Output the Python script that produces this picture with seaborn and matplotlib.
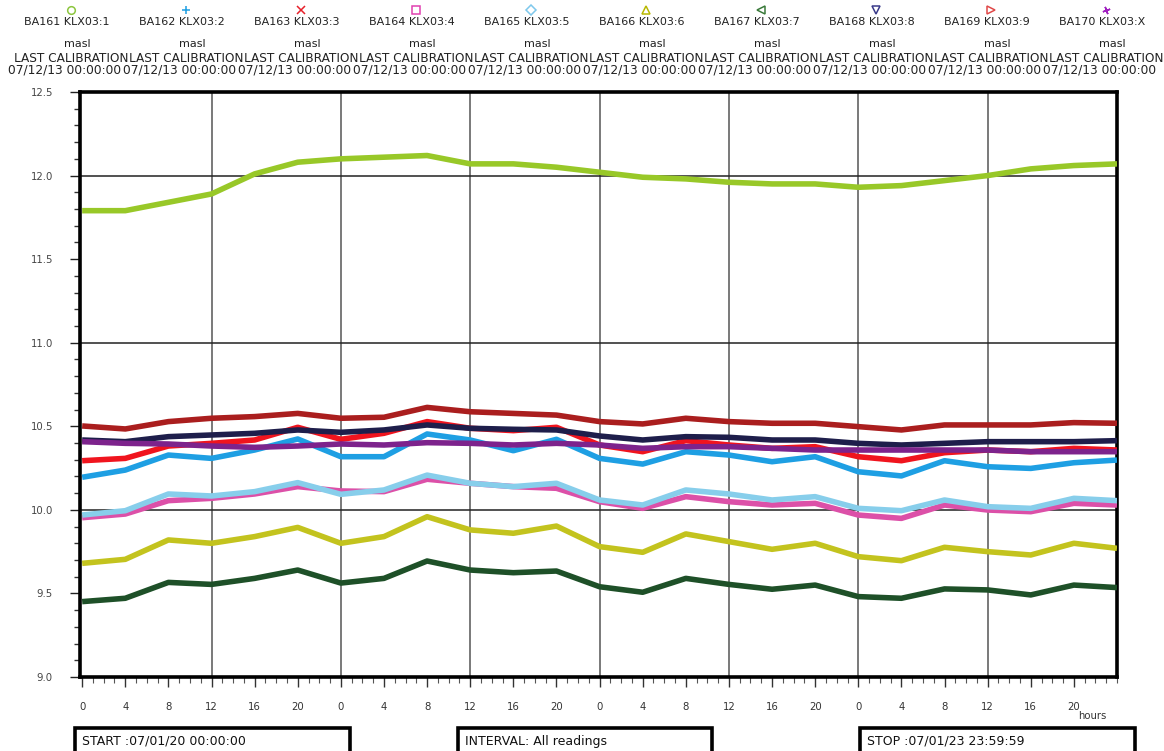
import numpy as np
import pandas as pd
import matplotlib
matplotlib.use("Agg")
import matplotlib.pyplot as plt
import seaborn as sns
from matplotlib.lines import Line2D
from matplotlib.patches import Rectangle
from matplotlib.ticker import MultipleLocator, FixedLocator, FormatStrFormatter

# ---------------- data ----------------
hours = list(range(0, 97, 4))

ba161 = [11.79, 11.79, 11.84, 11.89, 12.01, 12.08, 12.10, 12.11, 12.12, 12.07, 12.07, 12.05, 12.02,
         11.99, 11.98, 11.96, 11.95, 11.95, 11.93, 11.94, 11.97, 12.00, 12.04, 12.06, 12.07]
ba162 = [10.195, 10.238, 10.328, 10.308, 10.358, 10.424, 10.318, 10.318, 10.454, 10.418, 10.354, 10.422, 10.308,
         10.274, 10.348, 10.328, 10.288, 10.318, 10.228, 10.203, 10.294, 10.258, 10.248, 10.282, 10.298]
ba163 = [10.294, 10.308, 10.382, 10.398, 10.418, 10.494, 10.422, 10.458, 10.528, 10.488, 10.474, 10.494, 10.388,
         10.348, 10.414, 10.388, 10.368, 10.378, 10.318, 10.294, 10.342, 10.358, 10.348, 10.368, 10.358]
ba164 = [9.953, 9.975, 10.055, 10.069, 10.095, 10.139, 10.113, 10.109, 10.183, 10.159, 10.139, 10.129, 10.049,
         10.009, 10.079, 10.049, 10.029, 10.039, 9.969, 9.949, 10.029, 9.999, 9.989, 10.039, 10.029]
ba165 = [9.969, 9.995, 10.095, 10.083, 10.109, 10.163, 10.093, 10.119, 10.208, 10.159, 10.139, 10.159, 10.059,
         10.029, 10.119, 10.095, 10.059, 10.079, 10.009, 9.995, 10.059, 10.019, 10.009, 10.069, 10.055]
ba166 = [9.680, 9.704, 9.820, 9.800, 9.840, 9.895, 9.800, 9.840, 9.959, 9.880, 9.860, 9.903, 9.780,
         9.746, 9.856, 9.810, 9.764, 9.800, 9.720, 9.696, 9.776, 9.750, 9.730, 9.800, 9.770]
ba167 = [9.451, 9.471, 9.566, 9.554, 9.590, 9.640, 9.562, 9.590, 9.694, 9.640, 9.624, 9.634, 9.540,
         9.507, 9.590, 9.554, 9.525, 9.550, 9.481, 9.471, 9.527, 9.521, 9.491, 9.550, 9.535]
ba168 = [10.418, 10.408, 10.438, 10.448, 10.458, 10.478, 10.464, 10.478, 10.508, 10.488, 10.482, 10.478, 10.442,
         10.418, 10.438, 10.434, 10.418, 10.418, 10.398, 10.388, 10.398, 10.408, 10.408, 10.408, 10.414]
ba169 = [10.502, 10.484, 10.528, 10.548, 10.558, 10.577, 10.548, 10.554, 10.613, 10.587, 10.577, 10.567, 10.528,
         10.514, 10.548, 10.528, 10.518, 10.518, 10.498, 10.478, 10.508, 10.508, 10.508, 10.522, 10.518]
ba170 = [10.408, 10.398, 10.394, 10.382, 10.374, 10.382, 10.394, 10.388, 10.402, 10.398, 10.388, 10.398, 10.388,
         10.368, 10.378, 10.378, 10.368, 10.358, 10.358, 10.358, 10.358, 10.358, 10.348, 10.348, 10.348]

series_names = ["BA161 KLX03:1", "BA162 KLX03:2", "BA163 KLX03:3", "BA164 KLX03:4", "BA165 KLX03:5",
                "BA166 KLX03:6", "BA167 KLX03:7", "BA168 KLX03:8", "BA169 KLX03:9", "BA170 KLX03:X"]
series_values = [ba161, ba162, ba163, ba164, ba165, ba166, ba167, ba168, ba169, ba170]
unit_label = "masl"
calib_label = "LAST CALIBRATION"
calib_date = "07/12/13 00:00:00"
hour_tick_labels = ["0", "4", "8", "12", "16", "20"] * 4
start_text = "START :07/01/20 00:00:00"
interval_text = "INTERVAL: All readings"
stop_text = "STOP :07/01/23 23:59:59"

# ---------------- style ----------------
line_colors = ["#98c828", "#1e9fe3", "#f0141e", "#dc50a8", "#87ceeb",
               "#c3c31e", "#1e5028", "#1e1e4b", "#aa1e1e", "#7d238c"]
marker_colors = ["#8cc63e", "#1e9fe3", "#e8202a", "#e040b0", "#7ec8ec",
                 "#b8b800", "#3a7a3a", "#3a3a8a", "#e04848", "#a020c0"]
marker_shapes = ["o", "+", "x", "s", "D", "^", "<", "v", ">", (4, 2, 20)]

sns.set_theme(style="white")
plt.rcParams['font.family'] = ['DejaVu Sans']

W, H = 1164, 751
fig = plt.figure(figsize=(W / 100, H / 100), dpi=100)
fig.patch.set_facecolor("white")

ax_l, ax_r, ax_t, ax_b = 80, 1117, 92, 677
ax = fig.add_axes([ax_l / W, 1 - ax_b / H, (ax_r - ax_l) / W, (ax_b - ax_t) / H])

rows = []
for name, vals in zip(series_names, series_values):
    for h, v in zip(hours, vals):
        rows.append({"hour": h, "value": v, "series": name})
df = pd.DataFrame(rows)

sns.lineplot(data=df, x="hour", y="value", hue="series", hue_order=series_names,
             palette=dict(zip(series_names, line_colors)), linewidth=4.0,
             ax=ax, legend=False, sort=False, zorder=3)
for ln in ax.get_lines():
    ln.set_solid_joinstyle("round")
    ln.set_solid_capstyle("butt")

ax.set_xlim(-0.2, 96)
ax.set_ylim(9.0, 12.5)
ax.set_xlabel("")
ax.set_ylabel("")

# grid
for gx in range(12, 96, 12):
    ax.axvline(gx, color="#555555", lw=1.1, zorder=1)
for gy in [10.0, 11.0, 12.0]:
    ax.axhline(gy, color="#222222", lw=1.1, zorder=1)

# y ticks
ax.yaxis.set_major_locator(MultipleLocator(0.5))
ax.yaxis.set_minor_locator(MultipleLocator(0.1))
ax.yaxis.set_major_formatter(FormatStrFormatter("%.1f"))
ax.tick_params(axis="y", which="major", direction="out", length=7.5, width=1.0,
               color="#222222", labelsize=7.3, labelcolor="#444444", pad=12, left=True)
ax.tick_params(axis="y", which="minor", direction="out", length=4, width=1.0,
               color="#333333", left=True)

# x ticks
ax.xaxis.set_major_locator(FixedLocator(list(range(0, 96, 4))))
ax.set_xticklabels(hour_tick_labels)
ax.xaxis.set_minor_locator(MultipleLocator(1))
ax.tick_params(axis="x", which="major", direction="out", length=7, width=1.0,
               color="#333333", labelsize=7.3, labelcolor="#333333", pad=11, bottom=True)
ax.tick_params(axis="x", which="minor", direction="out", length=4, width=0.8,
               color="#555555", bottom=True)

for sp in ax.spines.values():
    sp.set_color("black")
    sp.set_linewidth(2.6)
    sp.set_visible(True)

fig.text(1092 / W, 1 - 716 / H, "hours", ha="center", va="center", fontsize=7.3, color="#333333")

# ---------------- header ----------------
for i, name in enumerate(series_names):
    cx = 67 + 115 * i
    fig.add_artist(Line2D([(cx + 4) / W], [1 - 10 / H], transform=fig.transFigure,
                          marker=marker_shapes[i], markersize=5.5, markerfacecolor="none",
                          markeredgecolor=marker_colors[i], markeredgewidth=1.1, linestyle="none"))
    fig.text(cx / W, 1 - 22 / H, name, ha="center", va="center", fontsize=8.0, color="#222222")
    fig.text((cx + 10) / W, 1 - 44 / H, unit_label, ha="center", va="center", fontsize=8.0, color="#222222")
    fig.text((cx + 4) / W, 1 - 58 / H, calib_label, ha="center", va="center", fontsize=8.7, color="#222222")
    fig.text((cx - 2) / W, 1 - 70 / H, calib_date, ha="center", va="center", fontsize=8.8, color="#222222")

# ---------------- bottom boxes ----------------
for (x0, x1, txt) in [(75, 350, start_text), (458, 712, interval_text), (860, 1135, stop_text)]:
    fig.add_artist(Rectangle((x0 / W, -0.03), (x1 - x0) / W, 0.03 + (1 - 728 / H),
                             transform=fig.transFigure, fill=False, edgecolor="black",
                             linewidth=2.6, clip_on=False))
    fig.text((x0 + 7) / W, 1 - 741 / H, txt, ha="left", va="center", fontsize=9, color="#111111")

fig.savefig("out.png", dpi=100, facecolor="white")
